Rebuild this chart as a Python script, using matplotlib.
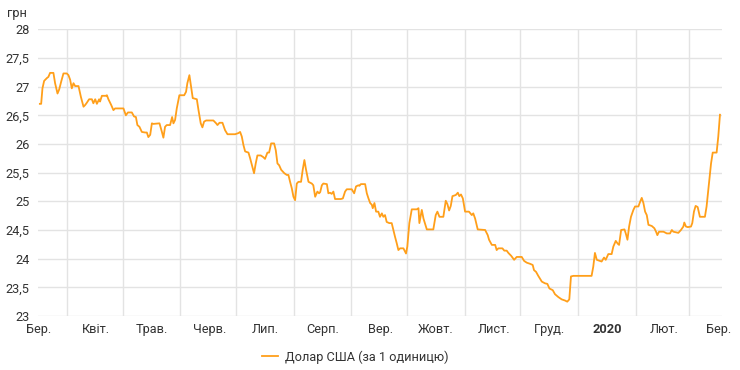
import pandas as pd
import matplotlib
matplotlib.use("Agg")
from matplotlib import pyplot as plt

# Курс долара США, грн (НБУ), березень 2019 - березень 2020
start = pd.Timestamp("2019-03-16")

# days since 16 Mar 2019
days = [1.3, 2.0, 2.7, 3.6, 5.1, 5.9, 6.8, 8.6, 9.5, 10.8, 11.7, 12.8, 14.0, 15.8,
        16.7, 17.6, 18.5, 19.4, 20.3, 22.1, 23.4, 24.8, 25.7, 26.6, 27.8, 29.3,
        30.1, 31.1, 32.0, 33.2, 33.7, 34.7, 36.8, 37.4, 38.2, 39.7, 40.9, 41.8,
        46.3, 47.6, 48.7, 50.8, 52.0, 53.0, 53.8, 54.9, 56.2, 58.0, 58.9, 59.7,
        60.7, 61.6, 62.4, 65.7, 67.0, 67.8, 68.7, 69.6, 71.4, 72.5, 73.2, 74.1,
        75.0, 76.4, 79.0, 80.0, 80.7, 81.8, 82.7, 83.6, 85.8, 86.7, 87.9, 88.8,
        89.7, 90.8, 94.7, 96.2, 96.9, 98.0, 99.6, 101.0, 102.3, 106.4, 108.2,
        109.1, 110.0, 110.9, 111.8, 113.6, 114.5, 115.7, 116.6, 117.5, 118.4,
        120.2, 121.6, 122.5, 123.8, 124.7, 125.8, 127.4, 128.3, 129.2, 130.1,
        131.2, 132.9, 134.2, 135.1, 136.0, 136.9, 137.8, 138.7, 139.6, 140.5,
        141.9, 142.8, 143.7, 144.6, 145.9, 147.7, 148.5, 149.5, 150.7, 151.6,
        152.2, 153.1, 153.9, 155.8, 156.6, 157.5, 158.4, 159.3, 160.2, 163.3,
        164.4, 165.6, 166.5, 169.2, 170.5, 171.5, 172.8, 173.3, 174.1, 176.4,
        177.3, 178.2, 179.1, 180.0, 180.5, 181.4, 182.3, 183.5, 184.4, 185.4,
        186.2, 187.1, 188.0, 189.4, 190.7, 191.6, 192.5, 193.4, 194.3, 195.2,
        197.0, 197.9, 198.4, 199.1, 200.2, 201.5, 204.2, 205.1, 205.6, 206.9,
        207.8, 209.6, 213.1, 214.4, 215.3, 216.4, 218.5, 219.8, 220.7, 221.6,
        222.5, 223.4, 225.2, 226.3, 227.1, 228.0, 229.0, 230.2, 232.3, 233.8,
        234.6, 235.6, 237.0, 241.0, 242.4, 243.1, 244.6, 246.4, 247.2, 248.1,
        250.3, 251.3, 252.6, 253.5, 255.0, 256.6, 258.0, 260.7, 262.0, 263.4,
        265.2, 266.6, 267.3, 268.4, 269.6, 271.5, 273.2, 274.5, 275.6, 277.4,
        278.6, 280.4, 282.2, 284.0, 285.2, 286.3, 287.2, 288.5, 298.3, 299.2,
        300.1, 301.1, 302.8, 303.7, 305.0, 305.9, 307.0, 307.3, 309.1, 310.0,
        311.3, 312.4, 313.1, 314.2, 316.0, 316.7, 317.6, 318.5, 319.5, 320.8,
        321.7, 323.5, 324.4, 325.3, 326.2, 327.1, 328.0, 328.9, 330.7, 332.1,
        333.0, 333.7, 334.6, 337.0, 338.8, 340.5, 341.5, 342.3, 345.0, 346.4,
        347.7, 348.2, 349.1, 350.1, 351.8, 352.5, 353.4, 354.3, 355.4, 356.6,
        359.3, 360.2, 361.5, 362.6, 363.5, 365.6, 366.5, 367.4]

usd = [26.70, 26.70, 26.97, 27.10, 27.15, 27.17, 27.24, 27.24, 27.06, 26.88, 26.95,
       27.09, 27.23, 27.23, 27.20, 27.12, 26.97, 27.06, 27.01, 27.01, 26.82, 26.65,
       26.68, 26.72, 26.78, 26.78, 26.71, 26.78, 26.70, 26.78, 26.74, 26.84, 26.84,
       26.85, 26.78, 26.68, 26.59, 26.62, 26.62, 26.50, 26.55, 26.55, 26.48, 26.47,
       26.33, 26.30, 26.21, 26.20, 26.20, 26.12, 26.16, 26.36, 26.35, 26.36, 26.21,
       26.11, 26.30, 26.33, 26.33, 26.47, 26.36, 26.42, 26.62, 26.85, 26.85, 26.91,
       27.06, 27.20, 27.00, 26.80, 26.78, 26.59, 26.36, 26.29, 26.39, 26.41, 26.41,
       26.36, 26.33, 26.37, 26.37, 26.24, 26.17, 26.17, 26.19, 26.21, 26.13, 25.98,
       25.87, 25.85, 25.75, 25.60, 25.49, 25.66, 25.80, 25.80, 25.77, 25.74, 25.85,
       25.85, 26.01, 26.01, 25.89, 25.66, 25.63, 25.55, 25.49, 25.46, 25.46, 25.34,
       25.23, 25.08, 25.02, 25.31, 25.34, 25.34, 25.55, 25.72, 25.55, 25.34, 25.31,
       25.28, 25.08, 25.17, 25.14, 25.16, 25.28, 25.31, 25.30, 25.14, 25.15, 25.13,
       25.17, 25.04, 25.04, 25.05, 25.17, 25.21, 25.21, 25.14, 25.26, 25.28, 25.27,
       25.30, 25.30, 25.14, 25.05, 24.97, 24.94, 24.88, 24.97, 24.82, 24.82, 24.73,
       24.79, 24.73, 24.76, 24.64, 24.62, 24.62, 24.50, 24.38, 24.27, 24.15, 24.18,
       24.18, 24.12, 24.09, 24.21, 24.62, 24.86, 24.86, 24.88, 24.62, 24.85, 24.70,
       24.51, 24.51, 24.76, 24.82, 24.73, 24.73, 25.01, 24.95, 24.84, 24.92, 25.09,
       25.11, 25.15, 25.09, 25.12, 25.05, 24.82, 24.82, 24.76, 24.79, 24.70, 24.51,
       24.50, 24.41, 24.33, 24.24, 24.24, 24.15, 24.18, 24.18, 24.14, 24.14, 24.10,
       24.05, 23.98, 24.03, 24.03, 23.96, 23.93, 23.91, 23.89, 23.80, 23.77, 23.70,
       23.60, 23.57, 23.56, 23.48, 23.45, 23.38, 23.33, 23.29, 23.27, 23.25, 23.29,
       23.69, 23.70, 23.70, 23.86, 24.10, 23.98, 23.96, 23.95, 24.02, 23.98, 24.06,
       24.08, 24.08, 24.21, 24.31, 24.26, 24.24, 24.50, 24.51, 24.44, 24.33, 24.56,
       24.73, 24.85, 24.91, 24.91, 24.99, 25.06, 24.97, 24.82, 24.76, 24.59, 24.57,
       24.53, 24.47, 24.41, 24.47, 24.47, 24.44, 24.44, 24.50, 24.47, 24.45, 24.50,
       24.56, 24.63, 24.56, 24.55, 24.56, 24.62, 24.82, 24.92, 24.90, 24.73, 24.73,
       24.91, 25.31, 25.66, 25.85, 25.85, 26.13, 26.51]

month_labels = ["Бер.", "Квіт.", "Трав.", "Черв.", "Лип.", "Серп.", "Вер.",
                "Жовт.", "Лист.", "Груд.", "2020", "Лют.", "Бер."]
y_ticks = [23, 23.5, 24, 24.5, 25, 25.5, 26, 26.5, 27, 27.5, 28]
series_name = "Долар США (за 1 одиницю)"

plt.rcParams["font.family"] = ["Roboto", "DejaVu Sans"]
text_color = "#333333"
grid_color = "#e3e3e3"
line_color = "#ff9f1a"
fs = 9.2

dates = start + pd.to_timedelta(days, unit="D")

fig = plt.figure(figsize=(7.4, 3.7), dpi=100)
ax = fig.add_axes([38 / 740, 1 - 316 / 370, 684 / 740, (316 - 29.3) / 370])

ax.plot(dates, usd, color=line_color, linewidth=1.3, label=series_name, zorder=3)

# gridlines at month starts, labels in the middle of each month
grid_dates = pd.date_range("2019-04-01", "2020-03-01", freq="MS")
label_dates = pd.date_range("2019-03-01", "2020-03-01", freq="MS") + pd.Timedelta(days=15.5)
ax.set_xticks(grid_dates)
ax.set_xticklabels([])
ax.set_xticks(label_dates, month_labels, minor=True)
for lbl in ax.get_xticklabels(minor=True):
    if lbl.get_text() == "2020":
        lbl.set_fontweight("bold")
        lbl.set_color("#222222")

ax.set_yticks(y_ticks, [f"{v:g}".replace(".", ",") for v in y_ticks])
ax.set_ylim(23, 28)
ax.set_xlim(start + pd.Timedelta(days=0.3), start + pd.Timedelta(days=368.5))

ax.grid(True, which="major", color=grid_color, linewidth=1)
ax.tick_params(which="both", length=0, colors=text_color, labelsize=fs)
ax.tick_params(axis="x", which="minor", pad=5)
ax.tick_params(axis="y", pad=6)
for s in ax.spines.values():
    s.set_visible(False)

fig.text(7 / 740, 1 - 13 / 370, "грн", color=text_color, fontsize=fs, va="center")
fig.legend(loc="center", bbox_to_anchor=(355 / 740, 1 - 357 / 370), frameon=False,
           handlelength=1.3, handletextpad=0.5, fontsize=fs, labelcolor=text_color)

fig.savefig("out.png", dpi=100)
